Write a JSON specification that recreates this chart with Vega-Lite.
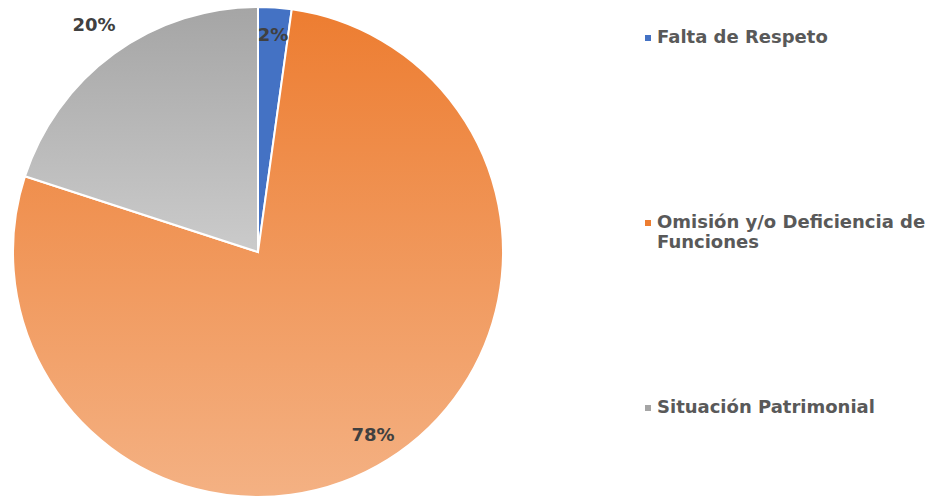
{
  "$schema": "https://vega.github.io/schema/vega-lite/v6.json",
  "width": 490,
  "height": 490,
  "autosize": {"type": "none"},
  "padding": {"left": 13, "top": 7, "right": 430, "bottom": 0},
  "background": "white",
  "config": {"view": {"stroke": null}},
  "data": {"values": [
    {"cat": "Falta de Respeto", "value": 0.022},
    {"cat": "Omisión y/o Deficiencia de Funciones", "value": 0.778},
    {"cat": "Situación Patrimonial", "value": 0.2}
  ]},
  "encoding": {
    "theta": {"field": "value", "type": "quantitative", "stack": true},
    "order": {"field": "cat", "sort": "ascending"}
  },
  "layer": [
    {
      "mark": {"type": "arc", "outerRadius": 245, "stroke": "white", "strokeWidth": 2},
      "encoding": {
        "color": {
          "field": "cat", "type": "nominal",
          "scale": {"domain": ["Falta de Respeto", "Omisión y/o Deficiencia de Funciones", "Situación Patrimonial"], "range": ["#4472C4", "#ED7D31", "#A5A5A5"]},
          "legend": {
            "title": null,
            "orient": "none",
            "legendX": 626,
            "legendY": 22,
            "symbolType": "square",
            "symbolSize": 36,
            "symbolStrokeWidth": 0,
            "labelFont": "DejaVu Sans",
            "labelFontWeight": "bold",
            "labelFontSize": 18,
            "labelColor": "#595959",
            "labelLimit": 400,
            "labelOffset": 0,
            "rowPadding": 147,
            "labelExpr": "datum.label == 'Omisión y/o Deficiencia de Funciones' ? ['Omisión y/o Deficiencia de', 'Funciones'] : [datum.label, '']"
          }
        }
      }
    },
    {
      "mark": {"type": "arc", "outerRadius": 245, "stroke": "white", "strokeWidth": 2},
      "encoding": {
        "detail": {"field": "cat", "type": "nominal"},
        "fill": {
          "condition": [
            {"test": "datum.cat == 'Omisión y/o Deficiencia de Funciones'", "value": {"gradient": "linear", "x1": 0, "y1": 0, "x2": 0, "y2": 1, "stops": [{"offset": 0, "color": "#ED7D31"}, {"offset": 1, "color": "#F4B183"}]}},
            {"test": "datum.cat == 'Situación Patrimonial'", "value": {"gradient": "linear", "x1": 0, "y1": 0, "x2": 0, "y2": 1, "stops": [{"offset": 0, "color": "#A5A5A5"}, {"offset": 1, "color": "#CBCBCB"}]}}
          ],
          "value": "#4472C4"
        }
      }
    },
    {
      "mark": {"type": "text", "radius": 217, "font": "DejaVu Sans", "fontWeight": "bold", "fontSize": 18, "fill": "#404040"},
      "encoding": {
        "detail": {"field": "cat", "type": "nominal"},
        "text": {"condition": {"test": "datum.cat != 'Situación Patrimonial'", "field": "value", "type": "quantitative", "format": ".0%"}, "value": ""}
      }
    },
    {
      "mark": {"type": "text", "radius": 279, "font": "DejaVu Sans", "fontWeight": "bold", "fontSize": 18, "fill": "#404040"},
      "encoding": {
        "detail": {"field": "cat", "type": "nominal"},
        "text": {"condition": {"test": "datum.cat == 'Situación Patrimonial'", "field": "value", "type": "quantitative", "format": ".0%"}, "value": ""}
      }
    }
  ]
}
